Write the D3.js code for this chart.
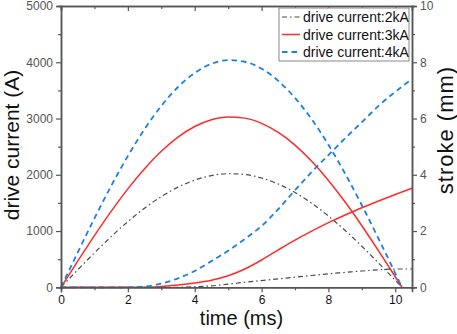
<!DOCTYPE html>
<html>
<head>
<meta charset="utf-8">
<script src="https://cdn.jsdelivr.net/npm/d3@7"></script>
<style>
	html, body { margin: 0; padding: 0; background: #fff; }
	svg { display: block; font-family: "Liberation Sans", Arial, sans-serif; }
</style>
</head>
<body>
<div id="chart"></div>
<script>
// time axis of the current pulses (ms)
var timeCurrent = [0, 0.5, 1, 1.5, 2, 2.5, 3, 3.5, 4, 4.5, 5, 5.5, 6, 6.5, 7, 7.5, 8, 8.5, 9, 9.5, 10, 10.2];
// drive current (A)
var current2kA = [0, 310, 612, 900, 1167, 1406, 1612, 1780, 1905, 1986, 2019, 2005, 1943, 1835, 1684, 1493, 1266, 1010, 730, 431, 124, 0];
var current3kA = [0, 464, 919, 1350, 1750, 2109, 2418, 2670, 2858, 2979, 3028, 3007, 2914, 2752, 2526, 2239, 1900, 1515, 1094, 647, 187, 0];
var current4kA = [0, 619, 1225, 1801, 2334, 2812, 3224, 3560, 3810, 3972, 4038, 4009, 3886, 3669, 3367, 2986, 2533, 2020, 1459, 863, 249, 0];

// time axis of the stroke curves (ms)
var timeStroke = [0, 0.5, 1, 1.5, 2, 2.5, 3, 3.5, 4, 4.5, 5, 5.5, 6, 6.5, 7, 7.5, 8, 8.5, 9, 9.5, 10, 10.5];
// stroke (mm)
var stroke2kA = [0, 0, 0, 0, 0, 0, 0, 0, 0.02, 0.05, 0.11, 0.18, 0.24, 0.3, 0.36, 0.42, 0.48, 0.53, 0.58, 0.62, 0.65, 0.65];
var stroke3kA = [0, 0, 0, 0, 0, 0, 0.03, 0.08, 0.15, 0.25, 0.41, 0.65, 0.97, 1.33, 1.68, 2.0, 2.3, 2.57, 2.83, 3.07, 3.3, 3.52];
var stroke4kA = [0, 0, 0, 0, 0, 0.03, 0.13, 0.32, 0.58, 0.93, 1.3, 1.72, 2.18, 2.78, 3.45, 4.1, 4.7, 5.3, 5.87, 6.45, 6.95, 7.4];

var seriesNames = ["drive current:2kA", "drive current:3kA", "drive current:4kA"];
var xTicks = [0, 2, 4, 6, 8, 10];
var leftTicks = [0, 1000, 2000, 3000, 4000, 5000];
var rightTicks = [0, 2, 4, 6, 8, 10];

var W = 457, H = 334,
	margin = {left: 61, right: 45, top: 6, bottom: 46.7},
	pw = W - margin.left - margin.right,
	ph = H - margin.top - margin.bottom,
	axisColor = "#555";

var styles = [
	{color: "#4a4a4a", width: 1.2, dash: "5,3,1.5,3"},
	{color: "#ff2b2b", width: 1.5, dash: null},
	{color: "#1a80e6", width: 1.8, dash: "5.5,4"}
];

var svg = d3.select("#chart").append("svg")
	.attr("width", W)
	.attr("height", H);

var x = d3.scaleLinear().domain([0, 10.5]).range([0, pw]);
var yL = d3.scaleLinear().domain([0, 5000]).range([ph, 0]);
var yR = d3.scaleLinear().domain([0, 10]).range([ph, 0]);

var g = svg.append("g")
	.attr("transform", "translate(" + margin.left + "," + margin.top + ")");

// curves
var currents = [current2kA, current3kA, current4kA],
	strokes = [stroke2kA, stroke3kA, stroke4kA];

var lineL = d3.line()
	.x(function (d) { return x(d[0]); })
	.y(function (d) { return yL(d[1]); })
	.curve(d3.curveMonotoneX);

var lineR = d3.line()
	.x(function (d) { return x(d[0]); })
	.y(function (d) { return yR(d[1]); })
	.curve(d3.curveMonotoneX);

function drawLine(data, gen, st) {
	var p = g.append("path")
		.datum(data)
		.attr("d", gen)
		.attr("fill", "none")
		.attr("stroke", st.color)
		.attr("stroke-width", st.width);
	if (st.dash) p.attr("stroke-dasharray", st.dash);
}

currents.forEach(function (c, i) {
	drawLine(d3.zip(timeCurrent, c), lineL, styles[i]);
});
strokes.forEach(function (s, i) {
	drawLine(d3.zip(timeStroke, s), lineR, styles[i]);
});

// axes
function minorTicks(lo, hi, step) {
	return d3.range(lo, hi + step / 2, step);
}

function styleAxis(sel) {
	sel.select(".domain").attr("stroke", axisColor).attr("stroke-width", 1.5);
	sel.selectAll(".tick line").attr("stroke", axisColor).attr("stroke-width", 1.2);
	sel.selectAll(".tick text")
		.attr("fill", "#333")
		.style("font-size", "12px")
		.style("font-family", "'Liberation Sans', Arial, sans-serif");
}

// minor ticks first
g.append("g")
	.attr("transform", "translate(0," + ph + ")")
	.call(d3.axisBottom(x).tickValues(minorTicks(1, 9, 2)).tickSize(3).tickFormat(""))
	.call(styleAxis);
g.append("g")
	.call(d3.axisTop(x).tickValues(minorTicks(1, 9, 2)).tickSize(-3).tickFormat(""))
	.call(styleAxis);
g.append("g")
	.call(d3.axisLeft(yL).tickValues(minorTicks(500, 4500, 1000)).tickSize(3).tickFormat(""))
	.call(styleAxis);
g.append("g")
	.attr("transform", "translate(" + pw + ",0)")
	.call(d3.axisRight(yR).tickValues(minorTicks(1, 9, 2)).tickSize(3).tickFormat(""))
	.call(styleAxis);

g.append("g")
	.attr("transform", "translate(0," + ph + ")")
	.call(d3.axisBottom(x).tickValues(xTicks).tickSize(5).tickPadding(3).tickFormat(d3.format("d")))
	.call(styleAxis)
	.selectAll(".tick text").attr("fill", "#111");

g.append("g")
	.call(d3.axisTop(x).tickValues(xTicks).tickSize(-5).tickFormat(""))
	.call(styleAxis);

g.append("g")
	.call(d3.axisLeft(yL).tickValues(leftTicks).tickSize(5).tickPadding(3).tickFormat(d3.format("d")))
	.call(styleAxis)
	.selectAll(".tick text").attr("fill", "#555");

g.append("g")
	.attr("transform", "translate(" + pw + ",0)")
	.call(d3.axisRight(yR).tickValues(rightTicks).tickSize(5).tickPadding(3).tickFormat(d3.format("d")))
	.call(styleAxis)
	.selectAll(".tick text").attr("fill", "#555");

// axis titles
svg.append("text")
	.attr("x", margin.left + pw / 2 + 5)
	.attr("y", 325)
	.attr("text-anchor", "middle")
	.style("font-size", "20px")
	.attr("fill", "#111")
	.text("time (ms)");

svg.append("text")
	.attr("transform", "translate(19," + (margin.top + 139) + ") rotate(-90)")
	.attr("text-anchor", "middle")
	.style("font-size", "21px")
	.attr("fill", "#111")
	.text("drive current (A)");

svg.append("text")
	.attr("transform", "translate(453,130) rotate(-90)")
	.attr("text-anchor", "middle")
	.style("font-size", "22px")
	.style("letter-spacing", "1px")
	.attr("fill", "#111")
	.text("stroke (mm)");

// legend
var lg = g.append("g")
	.attr("transform", "translate(" + (pw - 133) + ",2)");

lg.append("rect")
	.attr("x", 0).attr("y", 0)
	.attr("width", 130).attr("height", 53)
	.attr("fill", "#fff")
	.attr("stroke", "#888")
	.attr("stroke-width", 1);

seriesNames.forEach(function (name, i) {
	var yy = 9 + i * 17.5;
	var l = lg.append("line")
		.attr("x1", 3).attr("x2", 21)
		.attr("y1", yy).attr("y2", yy)
		.attr("stroke", styles[i].color)
		.attr("stroke-width", styles[i].width);
	if (styles[i].dash) l.attr("stroke-dasharray", styles[i].dash);
	lg.append("text")
		.attr("x", 24)
		.attr("y", yy + 5)
		.style("font-size", "14px")
		.attr("fill", "#111")
		.text(name);
});
</script>
</body>
</html>
